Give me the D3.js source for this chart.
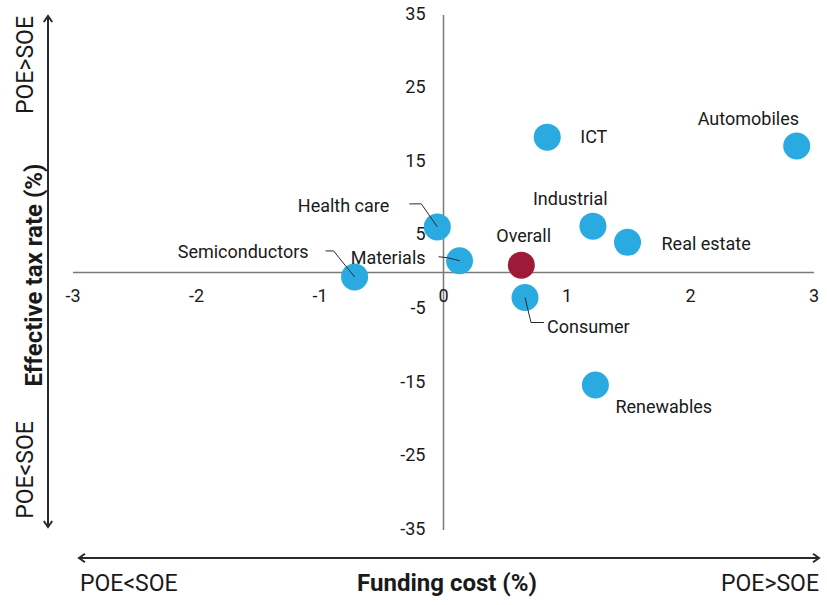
<!DOCTYPE html>
<html>
<head>
<meta charset="utf-8">
<title>Funding cost vs effective tax rate</title>
<script src="https://cdn.jsdelivr.net/npm/d3@7"></script>
<style>
	body { margin: 0; background: white; }
	svg text { font-family: Roboto, "DejaVu Sans", sans-serif; fill: #1a1a1a; }
	.tick_label { font-size: 18px; }
	.point_label { font-size: 18px; }
	.axis_title { font-size: 24px; font-weight: bold; }
	.side_label { font-size: 23px; }
	.zero_line { stroke: #7a7a7a; stroke-width: 1.5px; }
	.leader { stroke: #2a2a2a; stroke-width: 1px; fill: none; }
	.arrow { stroke: #2a2a2a; stroke-width: 2px; fill: none; }
</style>
</head>
<body>
<svg id="chart"></svg>
<script>

	// data
	var sectors = [ "ICT", "Automobiles", "Health care", "Industrial", "Real estate",
		"Materials", "Semiconductors", "Consumer", "Renewables", "Overall" ],
		funding_cost = [ 0.84, 2.86, -0.05, 1.21, 1.49, 0.13, -0.72, 0.66, 1.23, 0.63 ],
		tax_rate = [ 18.4, 17.2, 6.2, 6.3, 4.1, 1.6, -0.6, -3.4, -15.3, 1.0 ],
		x_ticks = [ -3, -2, -1, 0, 1, 2, 3 ],
		y_ticks = [ 35, 25, 15, 5, -5, -15, -25, -35 ];

	// label placement (px relative to the dot): dx, dy, anchor, leader points
	var label_layout = {
		"ICT": { dx: 33, dy: 6, anchor: "start" },
		"Automobiles": { dx: -99, dy: -21, anchor: "start" },
		"Health care": { dx: -48, dy: -15, anchor: "end", leader: [ [-28, -23], [-16, -23], [0, 0] ] },
		"Industrial": { dx: -60, dy: -21, anchor: "start" },
		"Real estate": { dx: 34, dy: 8, anchor: "start" },
		"Materials": { dx: -34, dy: 3, anchor: "end", leader: [ [-21, -4], [-12, -3], [0, 0] ] },
		"Semiconductors": { dx: -46, dy: -19, anchor: "end", leader: [ [-29, -26], [-21, -26], [0, 0] ] },
		"Consumer": { dx: 22, dy: 35, anchor: "start", leader: [ [0, 0], [6, 25], [19, 25] ] },
		"Renewables": { dx: 20, dy: 28, anchor: "start" },
		"Overall": { dx: -25, dy: -23, anchor: "start" }
	};

	var width = 827, height = 605,
		blue = "#29abe2", red = "#9e1a39",
		dotR = 13.5;

	var svg = d3.select( "svg#chart" )
		.attr( "width", width )
		.attr( "height", height );

	var x = d3.scaleLinear().domain( [-3, 3] ).range( [73, 814] ),
		y = d3.scaleLinear().domain( [-35, 35] ).range( [530, 15] );

	// zero lines
	svg.append( "line" ).classed( "zero_line", true )
		.attr( "x1", x(-3) ).attr( "x2", x(3) )
		.attr( "y1", y(0) ).attr( "y2", y(0) );
	svg.append( "line" ).classed( "zero_line", true )
		.attr( "x1", x(0) ).attr( "x2", x(0) )
		.attr( "y1", y(35) ).attr( "y2", y(-35) );

	// tick labels
	svg.selectAll( "text.x_tick" )
		.data( x_ticks ).enter().append( "text" )
			.attr( "class", "tick_label x_tick" )
			.attr( "x", d => x(d) )
			.attr( "y", y(0) + 25 )
			.attr( "text-anchor", "middle" )
			.attr( "dominant-baseline", "middle" )
			.text( d => d );

	svg.selectAll( "text.y_tick" )
		.data( y_ticks ).enter().append( "text" )
			.attr( "class", "tick_label y_tick" )
			.attr( "x", x(0) - 18 )
			.attr( "y", d => y(d) )
			.attr( "text-anchor", "end" )
			.attr( "dominant-baseline", "middle" )
			.text( d => d );

	var points = sectors.map( ( s, i ) => ( { name: s, fx: funding_cost[i], ty: tax_rate[i] } ) );

	// dots
	svg.selectAll( "circle" )
		.data( points ).enter().append( "circle" )
			.attr( "cx", d => x(d.fx) )
			.attr( "cy", d => y(d.ty) )
			.attr( "r", dotR )
			.attr( "fill", d => d.name == "Overall" ? red : blue );

	// leader lines
	var line = d3.line();
	svg.selectAll( "path.leader" )
		.data( points.filter( d => label_layout[d.name].leader ) ).enter().append( "path" )
			.classed( "leader", true )
			.attr( "d", d => line( label_layout[d.name].leader.map( p => [ x(d.fx) + p[0], y(d.ty) + p[1] ] ) ) );

	// point labels
	svg.selectAll( "text.point_label" )
		.data( points ).enter().append( "text" )
			.classed( "point_label", true )
			.attr( "x", d => x(d.fx) + label_layout[d.name].dx )
			.attr( "y", d => y(d.ty) + label_layout[d.name].dy )
			.attr( "text-anchor", d => label_layout[d.name].anchor )
			.text( d => d.name );

	// arrows
	var head = 6;
	svg.append( "path" ).classed( "arrow", true )
		.attr( "d", "M48,16 L48,527" );
	svg.append( "path" ).classed( "arrow", true )
		.attr( "d", `M${48 - head * 0.7},${16 + head} L48,16 L${48 + head * 0.7},${16 + head}` );
	svg.append( "path" ).classed( "arrow", true )
		.attr( "d", `M${48 - head * 0.7},${527 - head} L48,527 L${48 + head * 0.7},${527 - head}` );

	svg.append( "path" ).classed( "arrow", true )
		.attr( "d", "M79,558 L819,558" );
	svg.append( "path" ).classed( "arrow", true )
		.attr( "d", `M${79 + head},${558 - head * 0.7} L79,558 L${79 + head},${558 + head * 0.7}` );
	svg.append( "path" ).classed( "arrow", true )
		.attr( "d", `M${819 - head},${558 - head * 0.7} L819,558 L${819 - head},${558 + head * 0.7}` );

	// side labels and titles
	svg.append( "text" ).classed( "side_label", true )
		.attr( "transform", "translate(33,65) rotate(-90)" )
		.attr( "text-anchor", "middle" )
		.text( "POE>SOE" );
	svg.append( "text" ).classed( "side_label", true )
		.attr( "transform", "translate(33,470) rotate(-90)" )
		.attr( "text-anchor", "middle" )
		.text( "POE<SOE" );
	svg.append( "text" ).classed( "axis_title", true )
		.attr( "transform", "translate(42,275) rotate(-90)" )
		.attr( "text-anchor", "middle" )
		.text( "Effective tax rate (%)" );

	svg.append( "text" ).classed( "side_label", true )
		.attr( "x", 80 ).attr( "y", 591 )
		.text( "POE<SOE" );
	svg.append( "text" ).classed( "side_label", true )
		.attr( "x", 819 ).attr( "y", 591 )
		.attr( "text-anchor", "end" )
		.text( "POE>SOE" );
	svg.append( "text" ).classed( "axis_title", true )
		.attr( "x", 447 ).attr( "y", 591 )
		.attr( "text-anchor", "middle" )
		.text( "Funding cost (%)" );

</script>
</body>
</html>
